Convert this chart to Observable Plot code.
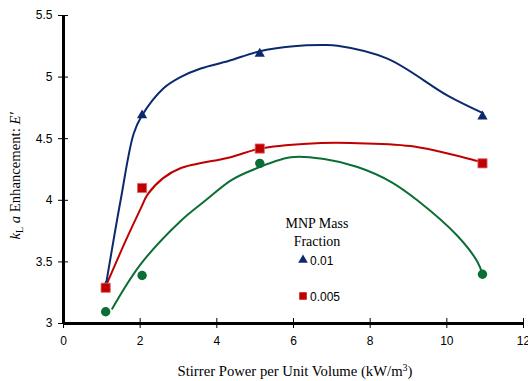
<!DOCTYPE html>
<html>
<head>
<meta charset="utf-8">
<script src="https://cdn.jsdelivr.net/npm/d3@7"></script>
<script src="https://cdn.jsdelivr.net/npm/@observablehq/plot@0.6"></script>
<style>
  html, body { margin: 0; padding: 0; background: #fff; }
  #chart { position: relative; width: 528px; height: 381px; }
</style>
</head>
<body>
<div id="chart"></div>
<script>
// Stirrer power per unit volume (kW/m^3) for the measured points
const power = [1.1, 2.05, 5.12, 10.93];

// Measured kLa enhancement E' per MNP mass fraction
const e001 = [3.3, 4.69, 5.19, 4.68];
const e0005 = [3.29, 4.10, 4.42, 4.30];
const e0 = [3.095, 3.39, 4.30, 3.40];

// Smoothed fit curves (x, y pairs)
const fit001X = [1.1, 1.49, 1.83, 2.05, 2.61, 3.05, 3.58, 4.3, 5.12, 6.0, 6.71, 7.15, 8.45, 10.02, 10.93];
const fit001Y = [3.3, 4.0, 4.54, 4.69, 4.91, 5.0, 5.07, 5.13, 5.21, 5.25, 5.26, 5.255, 5.15, 4.85, 4.71];
const fit0005X = [1.1, 1.62, 2.01, 2.2, 2.6, 3.05, 4.36, 5.12, 6.36, 7.49, 9.06, 10.8, 10.93];
const fit0005Y = [3.3, 3.67, 3.93, 4.05, 4.18, 4.26, 4.35, 4.42, 4.46, 4.465, 4.44, 4.32, 4.31];
const fit0X = [1.27, 2.01, 3.05, 3.71, 4.36, 4.88, 5.93, 6.8, 7.67, 8.54, 9.23, 10.28, 10.8, 10.93];
const fit0Y = [3.12, 3.48, 3.83, 4.0, 4.16, 4.24, 4.35, 4.335, 4.27, 4.15, 4.0, 3.71, 3.5, 3.40];

// Axis ticks
const xTicks = [0, 2, 4, 6, 8, 10, 12];
const yTicks = [3, 3.5, 4, 4.5, 5, 5.5];
const xDomain = [0, 12];
const yDomain = [3, 5.5];

const colors = { c001: "#0b2a6e", c0005: "#c00000", c0: "#0b6e35" };

const toPts = (xs, ys) => xs.map((x, i) => ({ x, y: ys[i] }));
const pts = (ys) => power.map((x, i) => ({ x, y: ys[i] }));
const fmt = d => String(d);

const plot = Plot.plot({
  width: 528,
  height: 381,
  marginLeft: 63,
  marginRight: 5,
  marginTop: 15,
  marginBottom: 58,
  style: { fontFamily: "Arial, 'Liberation Sans', sans-serif", fontSize: "12px", background: "#fff", color: "#000" },
  x: { domain: xDomain },
  y: { domain: yDomain },
  marks: [
    Plot.line(toPts(fit0X, fit0Y), { x: "x", y: "y", stroke: colors.c0, strokeWidth: 2, curve: "catmull-rom" }),
    Plot.line(toPts(fit0005X, fit0005Y), { x: "x", y: "y", stroke: colors.c0005, strokeWidth: 2, curve: "catmull-rom" }),
    Plot.line(toPts(fit001X, fit001Y), { x: "x", y: "y", stroke: colors.c001, strokeWidth: 2, curve: "catmull-rom" }),
    Plot.dot(pts(e001), { x: "x", y: "y", symbol: "triangle", r: 3.8, fill: colors.c001 }),
    Plot.dot(pts(e0005), { x: "x", y: "y", symbol: "square", r: 5.2, fill: colors.c0005, stroke: "#d87070", strokeWidth: 0.8 }),
    Plot.dot(pts(e0), { x: "x", y: "y", symbol: "circle", r: 4.7, fill: colors.c0 }),
    Plot.axisX({ ticks: xTicks, tickFormat: fmt, tickSize: 5, tickPadding: 8, tickWidth: 2, label: null }),
    Plot.axisX({ ticks: xTicks, tickSize: -5, tickWidth: 2, text: null, label: null }),
    Plot.axisY({ ticks: yTicks, tickFormat: fmt, tickSize: 5, tickPadding: 6, tickWidth: 2, label: null }),
    Plot.axisY({ ticks: yTicks, tickSize: -5, tickWidth: 2, text: null, label: null }),
    Plot.ruleY([yDomain[0]], { stroke: "#000", strokeWidth: 3 }),
    Plot.ruleX([xDomain[0]], { stroke: "#000", strokeWidth: 3 })
  ]
});

document.getElementById("chart").appendChild(plot);

const svg = d3.select(plot);
const serif = "'Times New Roman', 'Liberation Serif', serif";
const sans = "Arial, 'Liberation Sans', sans-serif";

// Axis titles
const xt = svg.append("text")
  .attr("x", 295).attr("y", 376)
  .attr("text-anchor", "middle")
  .attr("font-family", serif).attr("font-size", 14.7)
  .attr("fill", "#000");
xt.append("tspan").text("Stirrer Power per Unit Volume (kW/m");
xt.append("tspan").attr("font-size", 10).attr("dy", -5).text("3");
xt.append("tspan").attr("dy", 5).text(")");

const yt = svg.append("text")
  .attr("transform", "translate(20,176) rotate(-90)")
  .attr("text-anchor", "middle")
  .attr("font-family", serif).attr("font-size", 14.7)
  .attr("fill", "#000");
yt.append("tspan").attr("font-style", "italic").text("k");
yt.append("tspan").attr("font-size", 10).attr("dy", 3).text("L");
yt.append("tspan").attr("dy", -3).text(" ");
yt.append("tspan").attr("font-style", "italic").text("a");
yt.append("tspan").text(" Enhancement: ");
yt.append("tspan").attr("font-style", "italic").text("E′");

// Legend
const lg = svg.append("g");
lg.append("text").attr("x", 317).attr("y", 228).attr("text-anchor", "middle")
  .attr("font-family", serif).attr("font-size", 14).text("MNP Mass");
lg.append("text").attr("x", 317).attr("y", 246).attr("text-anchor", "middle")
  .attr("font-family", serif).attr("font-size", 14).text("Fraction");
const legendItems = [
  { label: "0.01", sym: d3.symbolTriangle, size: 40, color: colors.c001, y: 260 },
  { label: "0.005", sym: d3.symbolSquare, size: 56, color: colors.c0005, y: 296 }
];
legendItems.forEach(d => {
  lg.append("path").attr("d", d3.symbol(d.sym, d.size)())
    .attr("transform", `translate(303,${d.y})`).attr("fill", d.color);
  lg.append("text").attr("x", 310).attr("y", d.y + 4.5)
    .attr("text-anchor", "start")
    .attr("font-family", sans).attr("font-size", 12)
    .text(d.label);
});
</script>
</body>
</html>
